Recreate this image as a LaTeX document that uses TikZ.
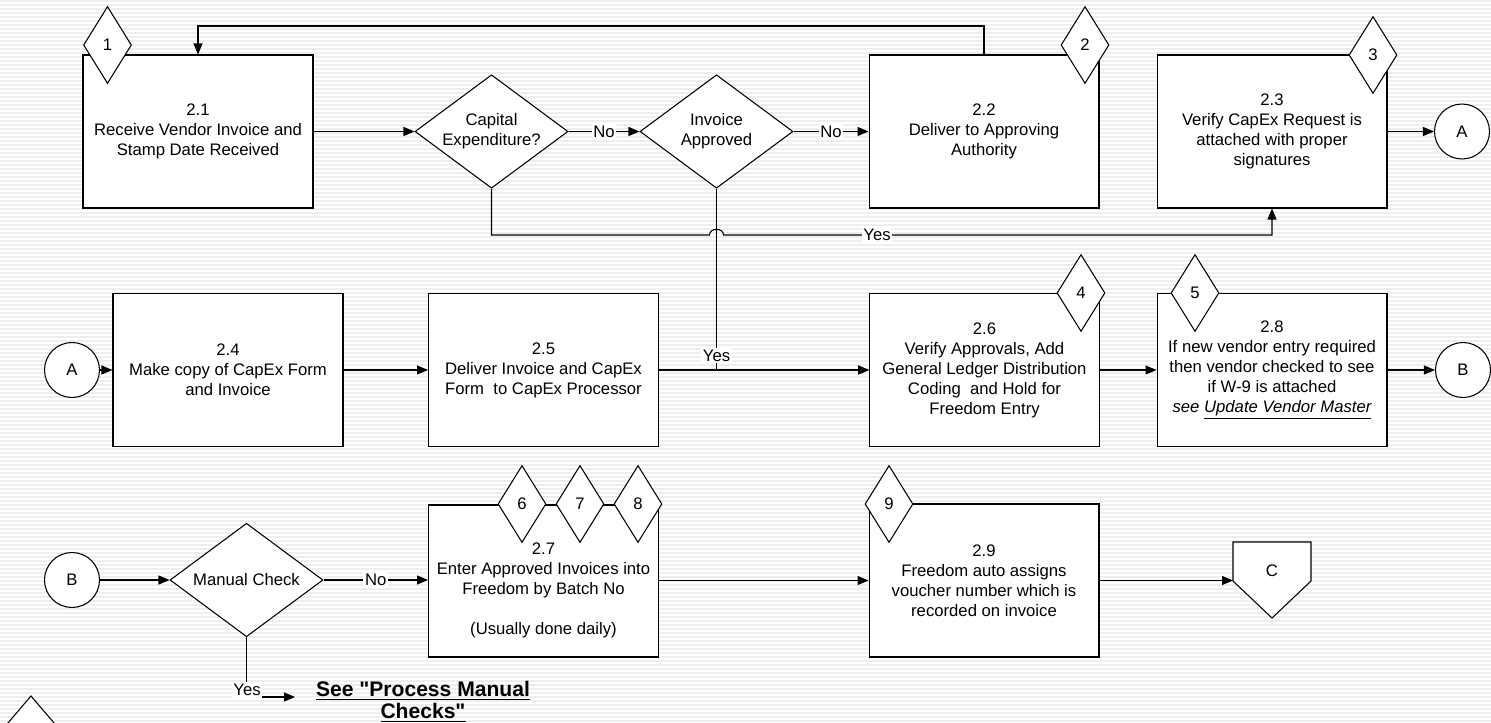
\documentclass[tikz,border=0pt]{standalone}
\usepackage{fontspec}
\setmainfont{Liberation Sans}[Ligatures=TeXOff]
\usepackage{tikz}
\usetikzlibrary{shapes.geometric,arrows.meta}

\begin{document}
\begin{tikzpicture}[
    x=0.02cm, y=-0.02cm,
    line width=0.6pt,
    every node/.style={font=\fontsize{9.5}{11.4}\selectfont, inner sep=0pt, align=center},
    proc/.style={rectangle, draw, fill=white, minimum width=4.6cm, minimum height=3.06cm},
    decision/.style={diamond, draw, fill=white, aspect=1.354, minimum width=3.06cm, minimum height=2.27cm},
    refmark/.style={diamond, draw, fill=white, minimum width=0.96cm, minimum height=1.54cm},
    conn/.style={circle, draw, fill=white, minimum size=1.1cm},
    lbl/.style={fill=white, inner sep=1pt},
    arr/.style={-{Triangle[length=0.22cm,width=0.18cm]}}
]
  % Striped background
  \useasboundingbox (0,0) rectangle (1491,723);
  \fill[white] (0,0) rectangle (1491,723);
  \foreach \y in {0,4,...,720}
    \fill[gray!13] (0,\y) rectangle (1491,\y+2);

  % First row
  \node[proc] (b21) at (198,131.5) {2.1\\Receive Vendor Invoice and\\Stamp Date Received};
  \node[decision] (capx) at (491.5,131.5) {Capital\\Expenditure?};
  \node[decision] (inva) at (716.5,131.5) {Invoice\\Approved};
  \node[proc] (b22) at (984,131.5) {2.2\\Deliver to Approving\\Authority};
  \node[proc] (b23) at (1272,131.5) {2.3\\Verify CapEx Request is\\attached with proper\\signatures};
  \node[conn] (conA) at (1462,131.5) {A};

  % Second row
  \node[conn] (conA2) at (72,370) {A};
  \node[proc] (b24) at (228,370) {2.4\\Make copy of CapEx Form\\and Invoice};
  \node[proc] (b25) at (543.5,370) {2.5\\Deliver Invoice and CapEx\\Form\ \ to CapEx Processor};
  \node[proc] (b26) at (984.5,370) {2.6\\Verify Approvals, Add\\General Ledger Distribution\\Coding\ \ and Hold for\\Freedom Entry};
  \node[proc] (b28) at (1272,370) {2.8\\If new vendor entry required\\then vendor checked to see\\if W-9 is attached\\\textit{see \underline{Update Vendor Master}}};
  \node[conn] (conB) at (1463,370) {B};

  % Third row
  \node[conn] (conB2) at (72,580) {B};
  \node[decision] (mchk) at (246.5,580) {Manual Check};
  \node[proc, minimum height=3.04cm] (b27) at (543.5,581) {};
  \node (b27txt) at (543.5,590) {2.7\\Enter Approved Invoices into\\Freedom by Batch No\\[11.4pt](Usually done daily)};
  \node[proc] (b29) at (984,580.5) {2.9\\Freedom auto assigns\\voucher number which is\\recorded on invoice};
  \draw[fill=white] (1233,542) -- (1311,542) -- (1311,581) -- (1272,618) -- (1233,581) -- cycle;
  \node (conC) at (1272,571) {C};
  \coordinate (cin) at (1233,580.5);
  \node[font=\fontsize{12}{12.6}\selectfont\bfseries] (seemc) at (423,702)
    {\underline{See "Process Manual}\\\underline{Checks"}};

  % Numbered markers
  \node[refmark] (n1) at (107.5,45) {1};
  \node[refmark] (n2) at (1085,45) {2};
  \node[refmark] (n3) at (1373,55) {3};
  \node[refmark] (n4) at (1081,293) {4};
  \node[refmark] (n5) at (1195,293) {5};
  \node[refmark] (n6) at (522,504) {6};
  \node[refmark] (n7) at (580,504) {7};
  \node[refmark] (n8) at (638,504) {8};
  \node[refmark] (n9) at (889,504) {9};

  % Off-page marker cut by the lower edge
  \draw[fill=white] (31,696) -- (-4,737) -- (66,737) -- cycle;

  % First row flow
  \draw[arr] (b21) -- (capx);
  \draw[arr] (capx) -- node[lbl]{No} (inva);
  \draw[arr] (inva) -- node[lbl]{No} (b22);
  \draw[arr] (b22.north) -- (984,26) -- (198,26) -- (b21.north);
  \draw[arr] (b23) -- (conA);
  \draw[arr] (capx.south) -- (491.5,235) -- (709.5,235)
    .. controls (709.5,227.5) and (723.5,227.5) .. (723.5,235)
    -- node[lbl, pos=0.28]{Yes} (1272,235) -- (b23.south);

  % Second row flow
  \draw[arr] (conA2) -- (b24);
  \draw[arr] (b24) -- (b25);
  \draw[arr] (b25) -- (b26);
  \draw[arr] (inva.south) -- node[lbl, pos=0.92]{Yes} (716.5,370) -- (b26.west);
  \draw[arr] (b26) -- (b28);
  \draw[arr] (b28) -- (conB);

  % Third row flow
  \draw[arr] (conB2) -- (mchk);
  \draw[arr] (mchk) -- node[lbl]{No} (b27.west |- mchk);
  \draw[arr] (b27.east |- b29) -- (b29);
  \draw[arr] (b29) -- (cin);
  \draw[arr] (mchk.south) -- (246.5,697) -- (295,697);
  \node[lbl] (yes3) at (247,690) {Yes};
\end{tikzpicture}
\end{document}
